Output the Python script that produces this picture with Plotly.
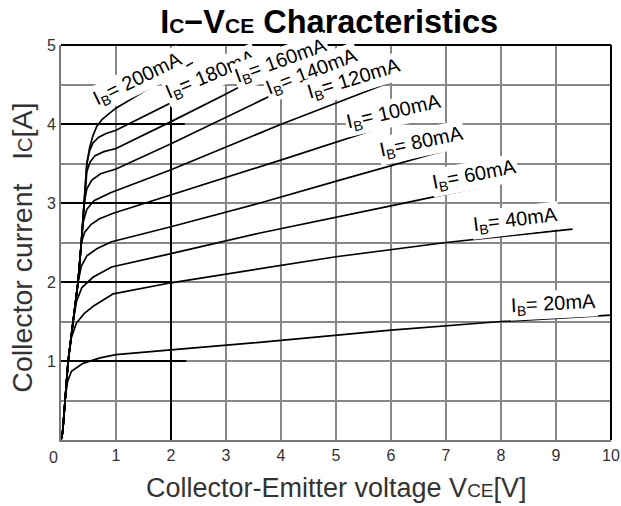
import plotly.graph_objects as go

# ---------------- data ----------------
ib_names = ["20mA", "40mA", "60mA", "80mA", "100mA", "120mA", "140mA", "160mA", "180mA", "200mA"]

vce_20 = [0, 0.03, 0.08, 0.12, 0.19, 0.40, 0.71, 1.0, 2.0, 4.0, 6.0, 8.0, 10.0]
ic_20 = [0, 0.10, 0.55, 0.74, 0.87, 0.97, 1.04, 1.08, 1.14, 1.26, 1.39, 1.50, 1.58]

vce_40 = [0, 0.03, 0.13, 0.19, 0.28, 0.42, 0.60, 0.95, 2.0, 3.62, 5.0, 7.0, 9.3]
ic_40 = [0, 0.10, 1.00, 1.30, 1.48, 1.60, 1.70, 1.85, 1.99, 2.17, 2.32, 2.50, 2.67]

vce_60 = [0, 0.03, 0.13, 0.22, 0.28, 0.38, 0.58, 0.92, 2.0, 3.62, 6.04, 7.62, 8.16]
ic_60 = [0, 0.10, 1.00, 1.50, 1.75, 1.93, 2.06, 2.19, 2.36, 2.62, 2.97, 3.20, 3.28]

vce_80 = [0, 0.03, 0.13, 0.22, 0.31, 0.37, 0.47, 0.65, 0.92, 2.0, 3.62, 5.07, 7.16]
ic_80 = [0, 0.10, 1.00, 1.50, 2.00, 2.20, 2.33, 2.42, 2.51, 2.70, 3.00, 3.29, 3.70]

vce_100 = [0, 0.03, 0.13, 0.22, 0.31, 0.37, 0.43, 0.55, 0.70, 0.95, 2.0, 3.98, 5.98, 6.95]
ic_100 = [0, 0.10, 1.00, 1.50, 2.00, 2.50, 2.63, 2.73, 2.80, 2.87, 3.10, 3.54, 3.99, 4.20]

vce_120 = [0, 0.03, 0.13, 0.22, 0.31, 0.37, 0.40, 0.47, 0.60, 0.90, 2.0, 3.98, 5.85, 6.10]
ic_120 = [0, 0.10, 1.00, 1.50, 2.00, 2.50, 2.75, 2.92, 3.03, 3.13, 3.42, 3.99, 4.49, 4.56]

vce_140 = [0, 0.03, 0.13, 0.22, 0.31, 0.37, 0.42, 0.47, 0.56, 0.72, 1.0, 2.0, 4.0, 5.0]
ic_140 = [0, 0.10, 1.00, 1.50, 2.00, 2.50, 3.00, 3.18, 3.29, 3.37, 3.43, 3.75, 4.42, 4.74]

vce_160 = [0, 0.03, 0.13, 0.22, 0.31, 0.37, 0.42, 0.47, 0.53, 0.62, 0.78, 1.0, 2.0, 3.0, 4.1]
ic_160 = [0, 0.10, 1.00, 1.50, 2.00, 2.50, 3.00, 3.40, 3.52, 3.60, 3.65, 3.69, 4.03, 4.38, 4.78]

vce_180 = [0, 0.03, 0.13, 0.22, 0.31, 0.37, 0.42, 0.47, 0.52, 0.58, 0.68, 0.82, 1.0, 2.0, 3.3]
ic_180 = [0, 0.10, 1.00, 1.50, 2.00, 2.50, 3.00, 3.50, 3.66, 3.76, 3.83, 3.88, 3.92, 4.27, 4.72]

vce_200 = [0, 0.03, 0.13, 0.22, 0.31, 0.37, 0.42, 0.47, 0.52, 0.58, 0.65, 0.75, 0.89, 1.0, 2.0, 2.4]
ic_200 = [0, 0.10, 1.00, 1.50, 2.00, 2.50, 3.00, 3.50, 3.70, 3.85, 3.97, 4.06, 4.14, 4.20, 4.62, 4.78]

x_ticks = [1, 2, 3, 4, 5, 6, 7, 8, 9, 10]
y_grid = [0.5, 1, 1.5, 2, 2.5, 3, 3.5, 4, 4.5, 5]
y_ticktext = ["", "1", "", "2", "", "3", "", "4", "", "5"]

# emphasised reference grid lines (value, extent)
ref_h_y = [1, 2, 3, 4]
ref_h_xend = [2.28, 2.0, 2.0, 2.25]
ref_v_x = [2]
ref_v_yend = [4.24]

series = [
    (vce_20, ic_20), (vce_40, ic_40), (vce_60, ic_60), (vce_80, ic_80),
    (vce_100, ic_100), (vce_120, ic_120), (vce_140, ic_140),
    (vce_160, ic_160), (vce_180, ic_180), (vce_200, ic_200),
]

# label placement (style): x, y, angle
label_pos = {
    "20mA": (8.95, 1.72, -3),
    "40mA": (8.27, 2.78, -7),
    "60mA": (7.51, 3.35, -11),
    "80mA": (6.56, 3.77, -12),
    "100mA": (6.05, 4.14, -13),
    "120mA": (5.33, 4.56, -17),
    "140mA": (4.56, 4.65, -21),
    "160mA": (4.00, 4.79, -20),
    "180mA": (2.72, 4.62, -23),
    "200mA": (1.40, 4.56, -26),
}

FONT = "Arial, 'Liberation Sans', sans-serif"
GRID = "rgb(135,135,135)"

fig = go.Figure()

for name, (xs, ys) in zip(ib_names, series):
    fig.add_trace(go.Scatter(
        x=xs, y=ys, mode="lines", name=name,
        line=dict(color="black", width=1.7),
        showlegend=False, hoverinfo="skip",
    ))

shapes = []
for yv, xe in zip(ref_h_y, ref_h_xend):
    shapes.append(dict(type="line", xref="x", yref="y", x0=0, x1=xe, y0=yv, y1=yv,
                       line=dict(color="black", width=2)))
for xv, ye in zip(ref_v_x, ref_v_yend):
    shapes.append(dict(type="line", xref="x", yref="y", x0=xv, x1=xv, y0=0, y1=ye,
                       line=dict(color="black", width=2)))
# frame: top and right in black
shapes.append(dict(type="line", xref="paper", yref="paper", x0=0, x1=1, y0=1, y1=1,
                   line=dict(color="black", width=2)))
shapes.append(dict(type="line", xref="paper", yref="paper", x0=1, x1=1, y0=0, y1=1,
                   line=dict(color="black", width=2)))

annotations = []
# draw labels from highest IB to lowest so lower ones overlap upper ones
for name in reversed(ib_names):
    lx, ly, ang = label_pos[name]
    annotations.append(dict(
        x=lx, y=ly, xref="x", yref="y", text="I<sub>B</sub>= " + name,
        showarrow=False, textangle=ang, bgcolor="white", borderpad=1,
        font=dict(family=FONT, size=20, color="black"),
        xanchor="center", yanchor="middle",
    ))

# shared corner "0" label
annotations.append(dict(x=0, y=0, xref="x", yref="y", text="0", showarrow=False,
                        xshift=-8, yshift=-17, font=dict(family=FONT, size=16, color="#333")))

# axis titles
annotations.append(dict(
    x=0.501, y=-0.1215, xref="paper", yref="paper",
    text="Collector-Emitter voltage V<span style='font-size:19px'>CE</span>[V]",
    showarrow=False, xanchor="center", yanchor="middle",
    font=dict(family=FONT, size=27, color="#333")))
annotations.append(dict(
    x=-0.0709, y=0.487, xref="paper", yref="paper",
    text="Collector current\u00a0\u00a0\u00a0I<span style='font-size:20px'>C</span>[A]",
    showarrow=False, xanchor="center", yanchor="middle", textangle=-90,
    font=dict(family=FONT, size=28.5, color="#333")))

fig.update_layout(
    width=621, height=506,
    margin=dict(l=61, r=10, t=45, b=66, autoexpand=False),
    paper_bgcolor="white", plot_bgcolor="white",
    title=dict(
        text="<b>I<span style='font-size:21px'>C</span>\u2212V<span style='font-size:21px'>CE</span> Characteristics</b>",
        x=0.53, xref="container", xanchor="center",
        y=0.957, yref="container", yanchor="middle",
        font=dict(family=FONT, size=32.5, color="black"),
    ),
    shapes=shapes,
    annotations=annotations,
    xaxis=dict(
        range=[0, 10], tickmode="array", tickvals=x_ticks, ticktext=[str(v) for v in x_ticks],
        showgrid=True, gridcolor=GRID, gridwidth=1.7,
        zeroline=False, showline=True, linecolor="rgb(120,120,120)", linewidth=2,
        ticks="", automargin=False,
        tickfont=dict(family=FONT, size=16, color="#333"),
    ),
    yaxis=dict(
        range=[0, 5], tickmode="array", tickvals=y_grid, ticktext=y_ticktext,
        showgrid=True, gridcolor=GRID, gridwidth=1.7,
        zeroline=False, showline=True, linecolor="rgb(120,120,120)", linewidth=2,
        ticks="", automargin=False,
        tickfont=dict(family=FONT, size=16, color="#333"),
    ),
)

fig.write_html(
    "out.html",
    config={"displayModeBar": False},
    post_script="document.body.style.margin='0';document.body.style.overflow='hidden';",
)
